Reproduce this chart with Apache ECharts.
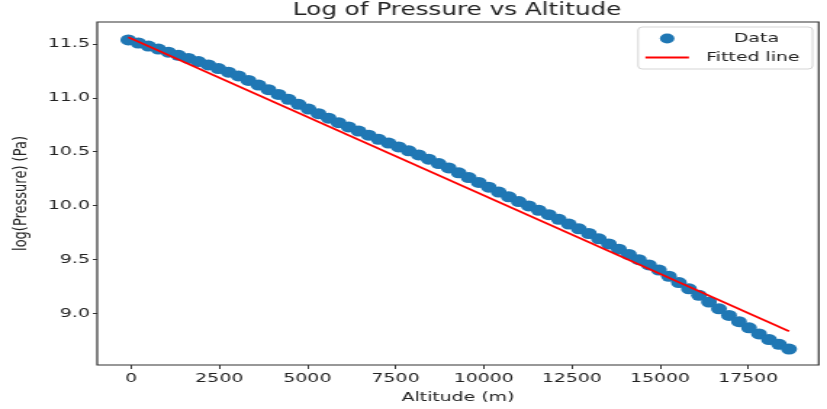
<!DOCTYPE html>
<html>
<head>
<meta charset="utf-8">
<script src="https://cdn.jsdelivr.net/npm/echarts@6/dist/echarts.min.js"></script>
<style>
  html, body { margin: 0; padding: 0; background: #fff; overflow: hidden; }
  #wrap { width: 827px; height: 409px; overflow: hidden; }
  #chart { width: 570px; height: 409px; transform: scaleX(1.4509); transform-origin: 0 0; }
</style>
</head>
<body>
<div id="wrap"><div id="chart"></div></div>
<script>
const altitude = [-80, 204, 488, 772, 1056, 1340, 1624, 1908, 2192, 2476, 2760, 3044, 3328, 3612, 3896, 4180, 4464, 4748, 5032, 5316, 5600, 5884, 6168, 6452, 6736, 7020, 7304, 7588, 7872, 8156, 8440, 8724, 9008, 9292, 9576, 9860, 10144, 10428, 10712, 10996, 11280, 11564, 11848, 12132, 12416, 12700, 12984, 13268, 13552, 13836, 14120, 14404, 14688, 14972, 15256, 15540, 15824, 16108, 16392, 16676, 16960, 17244, 17528, 17812, 18096, 18380, 18664];
const logPressure = [11.537, 11.509, 11.481, 11.453, 11.424, 11.395, 11.366, 11.337, 11.305, 11.272, 11.238, 11.203, 11.161, 11.118, 11.076, 11.031, 10.986, 10.940, 10.895, 10.853, 10.811, 10.769, 10.730, 10.691, 10.653, 10.615, 10.580, 10.544, 10.508, 10.470, 10.430, 10.389, 10.349, 10.304, 10.259, 10.214, 10.170, 10.125, 10.081, 10.037, 9.996, 9.955, 9.915, 9.872, 9.828, 9.784, 9.740, 9.691, 9.643, 9.594, 9.545, 9.497, 9.448, 9.400, 9.343, 9.284, 9.226, 9.166, 9.104, 9.041, 8.979, 8.921, 8.864, 8.808, 8.755, 8.711, 8.667];
const fitAltitude = [-80, 18664];
const fitLogPressure = [11.563, 8.832];
const xTicks = [0, 2500, 5000, 7500, 10000, 12500, 15000, 17500];
const yTicks = [9.0, 9.5, 10.0, 10.5, 11.0, 11.5];

const FONT = 'DejaVu Sans';
const chart = echarts.init(document.getElementById('chart'), null, { renderer: 'canvas' });
chart.setOption({
  animation: false,
  backgroundColor: '#fff',
  title: {
    text: 'Log of Pressure vs Altitude',
    left: 310, top: -3, textAlign: 'center',
    textStyle: { fontFamily: FONT, fontSize: 17, fontWeight: 'normal', color: '#222' }
  },
  legend: {
    orient: 'vertical', right: 10, top: 27, align: 'left',
    itemWidth: 30, itemHeight: 10, itemGap: 6,
    padding: [5, 9, 5, 5],
    borderColor: '#d5d5d5', borderWidth: 1, borderRadius: 3,
    backgroundColor: '#fff',
    textStyle: { fontFamily: FONT, fontSize: 13, color: '#222' },
    data: [
      { name: 'Data', icon: 'circle', textStyle: { padding: [0, 0, 0, 26] } },
      { name: 'Fitted line', icon: 'path://M0,0 L30,0 L30,2 L0,2 Z', textStyle: { padding: [0, 0, 0, 7] } }
    ]
  },
  grid: {
    left: 66, top: 22, width: 498.3, height: 344,
    show: true, borderColor: '#333', borderWidth: 1.2, backgroundColor: 'transparent'
  },
  xAxis: {
    type: 'value', min: -963, max: 19506,
    name: 'Altitude (m)', nameLocation: 'middle', nameGap: 26,
    nameTextStyle: { fontFamily: FONT, fontSize: 13, color: '#222' },
    axisLine: { show: false, onZero: false },
    axisTick: { show: true, length: 4, lineStyle: { color: '#333' }, customValues: xTicks },
    axisLabel: { fontFamily: FONT, fontSize: 13, color: '#222', margin: 7, customValues: xTicks,
      formatter: v => String(v) },
    splitLine: { show: false }
  },
  yAxis: {
    type: 'value', min: 8.519, max: 11.704,
    name: 'log(Pressure) (Pa)', nameLocation: 'middle', nameGap: 46,
    nameTextStyle: { fontFamily: FONT, fontSize: 13, color: '#222' },
    axisLine: { show: false, onZero: false },
    axisTick: { show: true, length: 3, lineStyle: { color: '#333' }, customValues: yTicks },
    axisLabel: { fontFamily: FONT, fontSize: 13, color: '#222', margin: 5, customValues: yTicks,
      formatter: v => Number(v).toFixed(1) },
    splitLine: { show: false }
  },
  series: [
    {
      name: 'Data', type: 'scatter', symbolSize: 11,
      itemStyle: { color: '#1f77b4', opacity: 1 },
      data: altitude.map((a, i) => [a, logPressure[i]]),
      z: 2
    },
    {
      name: 'Fitted line', type: 'line', symbol: 'none',
      lineStyle: { color: '#ff0000', width: 1.8 },
      itemStyle: { color: '#ff0000' },
      data: fitAltitude.map((a, i) => [a, fitLogPressure[i]]),
      z: 3
    }
  ]
});
</script>
</body>
</html>
